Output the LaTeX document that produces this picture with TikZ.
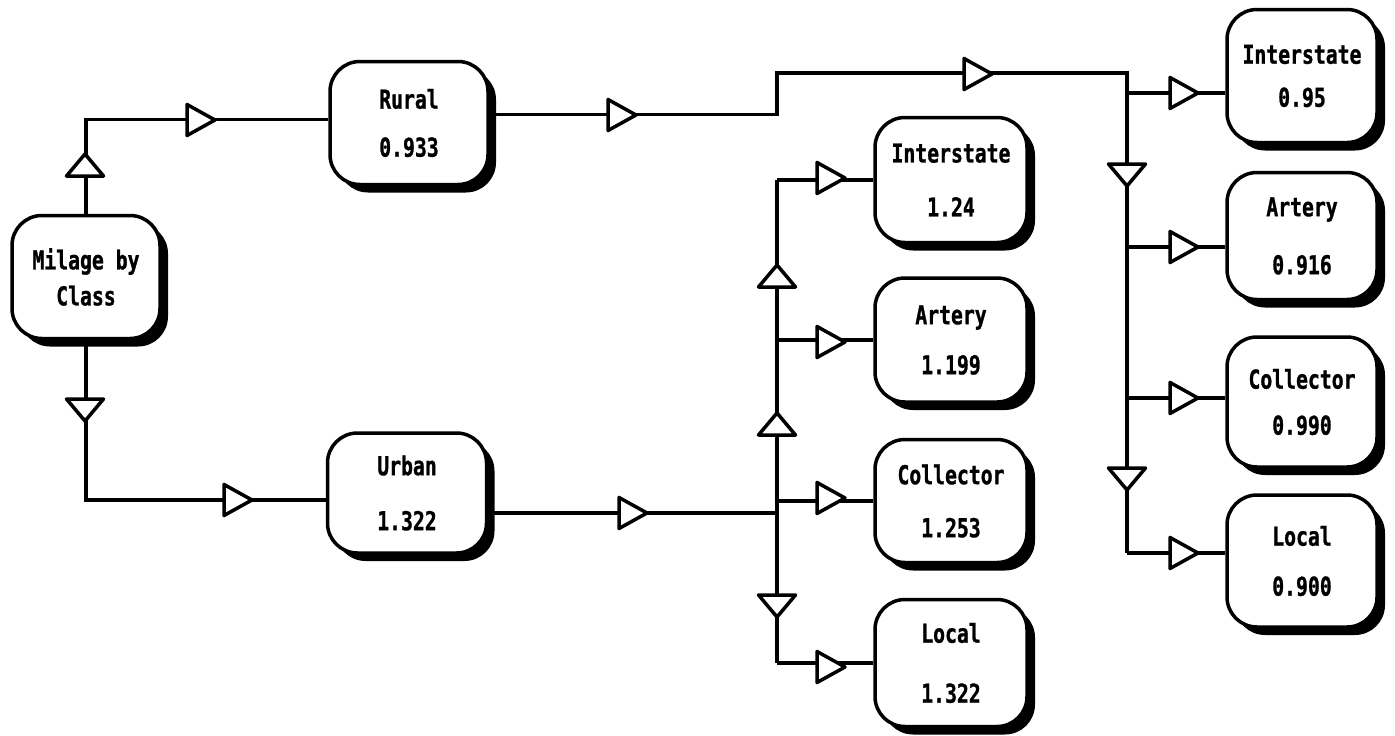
\documentclass[tikz,border=0pt]{standalone}
\usepackage{fontspec}
\newfontfamily\boxfont[FakeStretch=0.76,FakeBold=1]{DejaVu Sans Mono Bold}
\usetikzlibrary{shadows,calc}
\tikzset{
  box/.style={draw, line width=3.5pt, fill=white, rounded corners=30pt,
    minimum width=152pt, minimum height=126pt, inner sep=0pt, align=center,
    font=\boxfont\fontsize{26}{28}\selectfont,
    drop shadow={shadow xshift=8pt, shadow yshift=-8pt, opacity=1, fill=black}},
  conn/.style={line width=3.5pt},
  tri/.style={draw, fill=white, line width=3.5pt, line join=round}
}
\newcommand{\trih}[1]{\draw[tri, shift={#1}] (14,0) -- (-14,15.5) -- (-14,-15.5) -- cycle;}
\newcommand{\triu}[1]{\draw[tri, shift={#1}] (0,-11) -- (18.5,11) -- (-18.5,11) -- cycle;}
\newcommand{\trid}[1]{\draw[tri, shift={#1}] (0,11) -- (18.5,-11) -- (-18.5,-11) -- cycle;}
\begin{document}
\begin{tikzpicture}[x=1pt,y=-1pt]
\fill[white] (0,0) rectangle (1395,736);
\useasboundingbox (0,0) rectangle (1395,736);

% boxes
\node[box, minimum width=148pt, minimum height=123pt] (mil) at (86,277) {Milage by\\[8pt]Class};
\node[box, minimum width=158pt, minimum height=123pt] (rural) at (409,123) {Rural\\[20pt]0.933};
\node[box, minimum width=159pt, minimum height=120pt] (urban) at (407,493) {Urban\\[27pt]1.322};

\node[box, minimum height=125pt] (mint) at (951,180) {Interstate\\[26pt]1.24};
\node[box, minimum height=124pt] (mart) at (951,340) {Artery\\[22pt]1.199};
\node[box, minimum height=123pt] (mcol) at (951,501) {Collector\\[25pt]1.253};
\node[box, minimum height=127pt] (mloc) at (951,663) {Local\\[32pt]1.322};

\node[box, minimum width=150pt, minimum height=133pt] (rint) at (1302,76) {Interstate\\[15pt]0.95};
\node[box, minimum width=150pt, minimum height=127pt] (rart) at (1302,236) {Artery\\[30pt]0.916};
\node[box, minimum width=150pt, minimum height=130pt] (rcol) at (1302,402) {Collector\\[18pt]0.990};
\node[box, minimum width=150pt, minimum height=132pt] (rloc) at (1302,561) {Local\\[22pt]0.900};

% helper coordinates
\coordinate (rtop) at (1127,73);
\coordinate (mx) at (777,0);
\path ([yshift=-17pt]rint.west) coordinate (ri);
\path ([yshift=-11pt]rart.west) coordinate (ra);
\path ([yshift=4pt]rcol.west) coordinate (rc);
\path ([yshift=8pt]rloc.west) coordinate (rl);
\path ([yshift=-20pt]urban.east) coordinate (uo);

% connectors
\draw[conn] (mil.north) |- ([yshift=3.5pt]rural.west);
\draw[conn] (mil.south) |- ([yshift=-7pt]urban.west);
\draw[conn] ([yshift=8.5pt]rural.east) -- ++(287,0) |- (rtop) -- (rl -| rtop);
\draw[conn] (ri -| rtop) -- (ri);
\draw[conn] (ra -| rtop) -- (ra);
\draw[conn] (rc -| rtop) -- (rc);
\draw[conn] (rl -| rtop) -- (rl);

\draw[conn] (uo) -- (uo -| mx);
\draw[conn] (mint.west -| mx) -- (mloc.west -| mx);
\draw[conn] (mint.west -| mx) -- (mint.west);
\draw[conn] (mart.west -| mx) -- (mart.west);
\draw[conn] (mcol.west -| mx) -- (mcol.west);
\draw[conn] (mloc.west -| mx) -- (mloc.west);

% triangles
\trih{(201,120)}
\trih{(238,500)}
\trih{(622,115)}
\trih{(978,74)}
\trih{(633,513)}
\trih{(831,178)}
\trih{(831,342)}
\trih{(831,498)}
\trih{(831,667)}
\trih{(1184,93)}
\trih{(1184,247)}
\trih{(1184,398)}
\trih{(1184,553)}
\triu{(85,165)}
\trid{(85,410)}
\triu{(777,276)}
\triu{(777,424)}
\trid{(777,606)}
\trid{(1127,175)}
\trid{(1127,479)}
\end{tikzpicture}
\end{document}
